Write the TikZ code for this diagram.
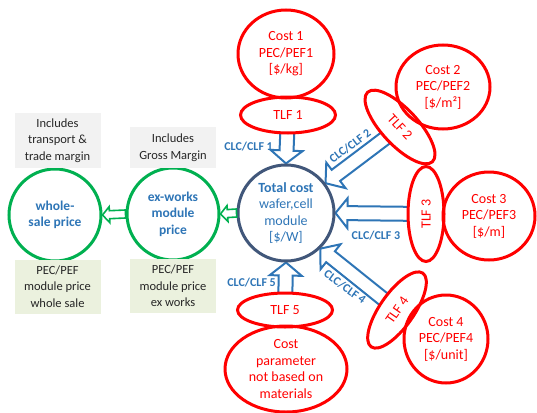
\documentclass[tikz,border=0pt]{standalone}
\usepackage{fontspec}
\setmainfont{Carlito}
\usepackage{xcolor}
\usepackage{tikz}
\usetikzlibrary{calc, shapes.geometric, backgrounds}
\definecolor{CostRed} {HTML}{FF0000}
\definecolor{ClcBlue} {HTML}{2E75B6}
\definecolor{TotSlate}{HTML}{41577A}
\definecolor{PriceGrn}{HTML}{00B050}
\definecolor{NoteGry} {HTML}{F2F2F2}
\definecolor{NoteOlv} {HTML}{EBF1DE}
\definecolor{TextGry} {HTML}{262626}

% hollow block arrow: [style]{from}{to}{shaft half}{head half}{head length}
\newcommand{\hollowarrow}[6][]{%
  \coordinate (ha-base) at ($(#3)!#6!(#2)$);
  \draw[#1] ($(#2)!#4!90:(#3)$) -- ($(ha-base)!#4!90:(#3)$)
    -- ($(ha-base)!#5!90:(#3)$) -- (#3) -- ($(ha-base)!#5!-90:(#3)$)
    -- ($(ha-base)!#4!-90:(#3)$) -- ($(#2)!#4!-90:(#3)$) -- cycle;}

\begin{document}
\begin{tikzpicture}[
  x=1pt, y=-1pt,
  font=\fontsize{12.5}{16.5}\selectfont,
  every node/.style={align=center, inner sep=0pt},
  cost/.style   = {ellipse, draw=CostRed, line width=3pt, text=CostRed,
                   font=\fontsize{14}{16.5}\selectfont},
  tlf/.style    = {ellipse, draw=CostRed, fill=white, line width=3pt, text=CostRed,
                   minimum width=95pt, minimum height=36pt, font=\fontsize{14}{16.5}\selectfont},
  total/.style  = {circle, draw=TotSlate, line width=3pt, minimum size=96pt, text=ClcBlue,
                   font=\fontsize{14}{16.5}\selectfont},
  price/.style  = {circle, draw=PriceGrn, line width=3pt, minimum size=92pt, text=ClcBlue,
                   font=\fontsize{13.5}{16.5}\selectfont\bfseries},
  note/.style   = {fill=NoteGry, text=TextGry, minimum width=86pt},
  pecbox/.style = {fill=NoteOlv, text=TextGry, minimum width=86pt, minimum height=54pt},
  clc/.style    = {text=ClcBlue, font=\fontsize{12}{14}\selectfont\bfseries},
  blarrow/.style= {draw=ClcBlue, fill=white, line width=2pt, line join=miter},
  grarrow/.style= {draw=PriceGrn, fill=white, line width=1.6pt},
]
\useasboundingbox (0,0) rectangle (537,412);

% centre
\node[total] (tc) at (286,213) {\textbf{Total cost}\\wafer,cell\\module\\{[}\$/W{]}};

% transport/loss factors
\node[tlf]              (t1) at (288,115) {TLF 1};
\node[tlf, rotate=-47]  (t2) at (400,127) {TLF 2};
\node[tlf, rotate=90]   (t3) at (426,214) {TLF 3};
\node[tlf, rotate=55, minimum width=90pt, minimum height=34pt] (t4) at (397,310) {TLF 4};
\node[tlf, minimum height=34pt] (t5) at (285,310) {TLF 5};

% cost inputs
\node[cost, minimum width=96pt, minimum height=88pt] (c1) at (286,54)  {Cost 1\\PEC/PEF1\\{[}\$/kg{]}};
\node[cost, minimum width=94pt, minimum height=84pt] (c2) at (443,87)  {Cost 2\\PEC/PEF2\\{[}\$/m²{]}};
\node[cost, minimum width=92pt, minimum height=88pt] (c3) at (489,216) {Cost 3\\PEC/PEF3\\{[}\$/m{]}};
\node[cost, minimum width=84pt, minimum height=88pt] (c4) at (446,339) {Cost 4\\PEC/PEF4\\{[}\$/unit{]}};
\node[cost, minimum width=122pt, minimum height=86pt] (c5) at (286,369) {Cost\\parameter\\not based on\\materials};

% prices
\node[price] (ex) at (173,214) {ex-works\\module\\price};
\node[price] (ws) at (55,215)  {whole-\\sale price};

\node[note, minimum height=55pt] (n1) at (57.5,140.5) {Includes\\transport \&\\trade margin};
\node[note, minimum height=41pt] (n2) at (173,147.5)  {Includes\\Gross Margin};
\node[pecbox] (p1) at (57.5,286.5) {PEC/PEF\\module price\\whole sale};
\node[pecbox] (p2) at (173,286)    {PEC/PEF\\module price\\ex works};

% arrow labels
\node[clc, anchor=east] (l1) at (273,147) {CLC/CLF 1};
\node[clc, rotate=37]   (l2) at (350,146) {CLC/CLF 2};
\node[clc]              (l3) at (376,236) {CLC/CLF 3};
\node[clc, rotate=-36]  (l4) at (345,287) {CLC/CLF 4};
\node[clc, anchor=east] (l5) at (276,283) {CLC/CLF 5};

\begin{scope}[on background layer]
\hollowarrow[blarrow]{t1.center}{tc.north}{7pt}{16pt}{13pt}
\hollowarrow[blarrow]{t2.center}{tc.37}{7pt}{16pt}{13pt}
\hollowarrow[blarrow]{t3.center}{tc.east}{7pt}{15pt}{12pt}
\hollowarrow[blarrow]{t4.center}{tc.-46}{7pt}{16pt}{13pt}
\hollowarrow[blarrow]{t5.center}{tc.south}{7pt}{16pt}{13pt}
\end{scope}
\hollowarrow[grarrow]{tc.west}{ex.east}{4pt}{8pt}{7pt}
\hollowarrow[grarrow]{ex.west}{ws.east}{4pt}{8pt}{7pt}
\end{tikzpicture}
\end{document}
